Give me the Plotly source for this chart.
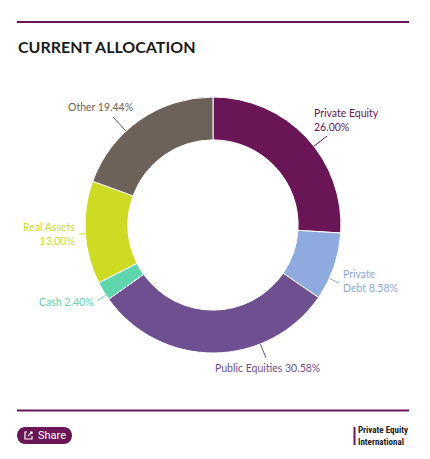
import math
import plotly.graph_objects as go

# chart data
categories = ["Private Equity", "Private Debt", "Public Equities", "Cash", "Real Assets", "Other"]
shares = [26.00, 8.58, 30.58, 2.40, 13.00, 19.44]
colors = ["#6a1556", "#8eaadf", "#6e4f8f", "#5fd6ad", "#cddc22", "#6c6259"]
label_texts = ["Private Equity<br>26.00%", "Private<br>Debt 8.58%", "Public Equities 30.58%",
               "Cash 2.40%", "Real Assets<br>13.00%", "Other 19.44%"]

# the page has the browser's default 8px body margin
OFF = 8
W, H = 430 - OFF, 459 - OFF
PURPLE = "#6a1556"
FONT = "Lato"


def px(x):
    return (x - OFF) / W


def py(y):
    return 1 - (y - OFF) / H


# donut geometry (screen pixels)
cx, cy, R = 213, 225, 128

# label placement: connector end (tail) and text anchor, in pixels
label_pos = [
    dict(tail=(327, 136), text=(312, 120), xa="left", al="left"),
    dict(tail=(339, 283), text=(341, 281), xa="left", al="left"),
    dict(tail=(266, 358), text=(267, 368), xa="center", al="center"),
    dict(tail=(97, 301), text=(96, 302), xa="right", al="right"),
    dict(tail=(79, 234), text=(77, 234), xa="right", al="right"),
    dict(tail=(113, 117), text=(100, 107), xa="center", al="center"),
]

fig = go.Figure()

fig.add_trace(go.Pie(
    labels=categories,
    values=shares,
    sort=False,
    direction="clockwise",
    rotation=0,
    hole=0.665,
    textinfo="none",
    marker=dict(colors=colors, line=dict(color="white", width=1)),
    domain=dict(x=[px(cx - R), px(cx + R)], y=[py(cy + R), py(cy - R)]),
    showlegend=False,
    hoverinfo="label+percent",
))

shapes = []
annotations = []

# connectors + labels, heads clamped onto each slice's outer edge
total = sum(shares)
start = 0.0
for i, v in enumerate(shares):
    a0 = start / total * 360
    a1 = (start + v) / total * 360
    start += v
    tx, ty = label_pos[i]["tail"]
    ang = math.degrees(math.atan2(tx - cx, cy - ty)) % 360
    ang = min(max(ang, a0 + 1), a1 - 1)
    hx = cx + R * math.sin(math.radians(ang))
    hy = cy - R * math.cos(math.radians(ang))
    shapes.append(dict(type="line", xref="paper", yref="paper",
                       x0=px(hx), y0=py(hy), x1=px(tx), y1=py(ty),
                       line=dict(color=colors[i], width=1)))
    lx, ly = label_pos[i]["text"]
    annotations.append(dict(x=px(lx), y=py(ly), xref="paper", yref="paper",
                            text=label_texts[i], showarrow=False,
                            xanchor=label_pos[i]["xa"], yanchor="middle",
                            align=label_pos[i]["al"],
                            font=dict(family=FONT, size=10.5, color=colors[i])))

# frame lines
for yl in (22, 410.5):
    shapes.append(dict(type="line", xref="paper", yref="paper",
                       x0=px(17), x1=px(409), y0=py(yl), y1=py(yl),
                       line=dict(color=PURPLE, width=2)))

# share pill
x0, x1, y0, y1 = 17, 72, 427, 444
r = (y1 - y0) / 2
path = (f"M {px(x0 + r)},{py(y0)} L {px(x1 - r)},{py(y0)} "
        f"C {px(x1 + r * 0.33)},{py(y0)} {px(x1 + r * 0.33)},{py(y1)} {px(x1 - r)},{py(y1)} "
        f"L {px(x0 + r)},{py(y1)} "
        f"C {px(x0 - r * 0.33)},{py(y1)} {px(x0 - r * 0.33)},{py(y0)} {px(x0 + r)},{py(y0)} Z")
shapes.append(dict(type="path", xref="paper", yref="paper", path=path,
                   fillcolor=PURPLE, line=dict(width=0)))
# share icon
shapes.append(dict(type="path", xref="paper", yref="paper",
                   path=f"M {px(27)},{py(432)} L {px(25)},{py(432)} L {px(25)},{py(439)} "
                        f"L {px(32)},{py(439)} L {px(32)},{py(436)}",
                   line=dict(color="white", width=1.2)))
shapes.append(dict(type="path", xref="paper", yref="paper",
                   path=f"M {px(28)},{py(436)} L {px(32)},{py(432)} M {px(30)},{py(432)} L {px(32)},{py(432)} L {px(32)},{py(434)}",
                   line=dict(color="white", width=1.2)))
annotations.append(dict(x=px(36), y=py(435.5), xref="paper", yref="paper",
                        text="Share", showarrow=False, xanchor="left", yanchor="middle",
                        font=dict(family="Roboto", size=11, color="white")))

# logo
shapes.append(dict(type="line", xref="paper", yref="paper",
                   x0=px(354.5), x1=px(354.5), y0=py(427), y1=py(445),
                   line=dict(color=PURPLE, width=2)))
annotations.append(dict(x=px(356), y=py(436), xref="paper", yref="paper",
                        text="<b>Private Equity<br>International</b>", showarrow=False,
                        xanchor="left", yanchor="middle", align="left",
                        font=dict(family="Roboto Condensed, Roboto", size=9, color="#222222")))

# title
annotations.append(dict(x=px(16), y=py(47), xref="paper", yref="paper",
                        text="<b>CURRENT ALLOCATION</b>", showarrow=False,
                        xanchor="left", yanchor="middle",
                        font=dict(family=FONT, size=16, color="#1b1b1b")))

fig.update_layout(
    width=W, height=H,
    margin=dict(l=0, r=0, t=0, b=0),
    paper_bgcolor="white",
    plot_bgcolor="white",
    shapes=shapes,
    annotations=annotations,
)

fig.write_html("out.html")
